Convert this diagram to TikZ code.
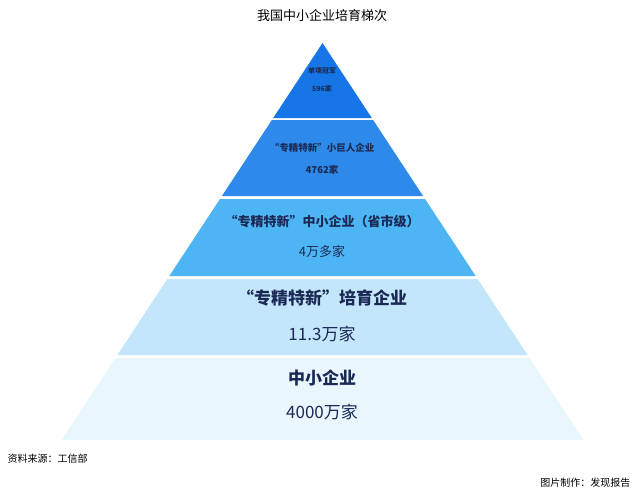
\documentclass[tikz,border=0pt]{standalone}
\usepackage{fontspec}
\setmainfont{Noto Sans CJK SC}
\begin{document}
\begin{tikzpicture}[x=1pt,y=-1pt,
  lbl/.style={text=navy,font=\bfseries}]
\definecolor{navy}{HTML}{1B2A55}
\definecolor{cA}{HTML}{1676E8}
\definecolor{cB}{HTML}{2E8AEA}
\definecolor{cC}{HTML}{4DB5F4}
\definecolor{cD}{HTML}{C4E6FA}
\definecolor{cE}{HTML}{EAF6FD}
\useasboundingbox[fill=white] (0,0) rectangle (640,495);
\foreach \ya/\yb/\c in {43/118/cA,120/196/cB,199/276/cC,279/355/cD,358/440/cE}{
  \pgfmathsetmacro\wa{(\ya-43)*0.6574}
  \pgfmathsetmacro\wb{(\yb-43)*0.6574}
  \fill[\c] (322.5-\wa,\ya) -- (322.5+\wa,\ya) -- (322.5+\wb,\yb) -- (322.5-\wb,\yb) -- cycle;
}
\node[font=\fontsize{13}{15}\selectfont] (title) at (322,16) {我国中小企业培育梯次};
\node[lbl,font=\bfseries\fontsize{7}{8}\selectfont] (t1) at (322,71) {单项冠军};
\node[lbl,font=\bfseries\fontsize{7}{8}\selectfont] (n1) at (322,89) {596家};
\node[lbl,font=\bfseries\fontsize{9.5}{11}\selectfont] (t2) at (322,148) {“专精特新”小巨人企业};
\node[lbl,font=\bfseries\fontsize{9.5}{11}\selectfont] (n2) at (322,170) {4762家};
\node[lbl,font=\bfseries\fontsize{13}{15}\selectfont] (t3) at (322,222) {“专精特新”中小企业（省市级）};
\node[text=navy,font=\fontsize{13}{15}\selectfont] (n3) at (322,252) {4万多家};
\node[lbl,font=\bfseries\fontsize{17}{20}\selectfont] (t4) at (322,298) {“专精特新”培育企业};
\node[text=navy,font=\fontsize{17}{20}\selectfont] (n4) at (322,334) {11.3万家};
\node[lbl,font=\bfseries\fontsize{17}{20}\selectfont] (t5) at (322,378) {中小企业};
\node[text=navy,font=\fontsize{17}{20}\selectfont] (n5) at (322,412) {4000万家};
\node[anchor=west,font=\fontsize{10}{12}\selectfont] (src) at (4,459) {资料来源：工信部};
\node[anchor=east,font=\fontsize{10}{12}\selectfont] (cr) at (634,483) {图片制作：发现报告};
\end{tikzpicture}
\end{document}
